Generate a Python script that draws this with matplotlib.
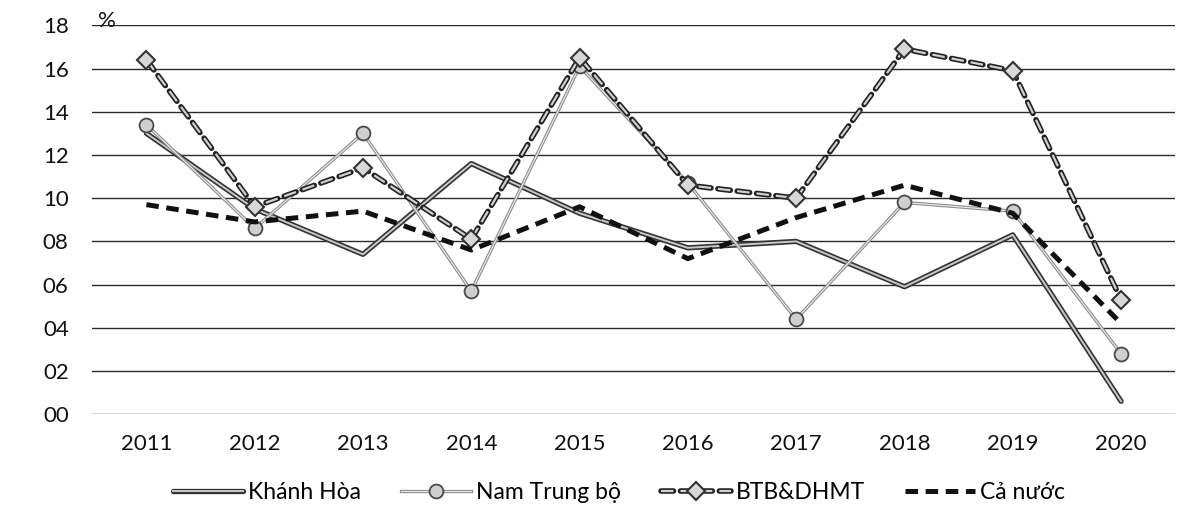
import matplotlib
matplotlib.use('Agg')
import matplotlib.pyplot as plt

plt.rcParams['font.family'] = ['Lato', 'DejaVu Sans']
plt.rcParams['lines.scale_dashes'] = False

years = ['2011', '2012', '2013', '2014', '2015', '2016', '2017', '2018', '2019', '2020']
khanh_hoa = [13.0, 9.5, 7.4, 11.6, 9.3, 7.7, 8.0, 5.9, 8.3, 0.6]
nam_trung_bo = [13.4, 8.6, 13.0, 5.7, 16.1, 10.7, 4.4, 9.8, 9.4, 2.8]
btb_dhmt = [16.4, 9.6, 11.4, 8.1, 16.5, 10.6, 10.0, 16.9, 15.9, 5.3]
ca_nuoc = [9.7, 8.9, 9.4, 7.6, 9.6, 7.2, 9.1, 10.6, 9.3, 4.2]
labels = ['Khánh Hòa', 'Nam Trung bộ', 'BTB&DHMT', 'Cả nước']
yticks = [0, 2, 4, 6, 8, 10, 12, 14, 16, 18]

fig = plt.figure(figsize=(11.98, 5.27), dpi=100)
ax = fig.add_axes([0.077, 0.214, 0.904, 0.738])
x = list(range(len(years)))

# grid
for v in yticks:
    ax.axhline(v, color='#2a2a2a', lw=1.0, zorder=0)

# Khanh Hoa: double solid line
kh1, = ax.plot(x, khanh_hoa, color='#333333', lw=3.8, solid_capstyle='round', zorder=2)
kh2, = ax.plot(x, khanh_hoa, color='#c8c8c8', lw=1.4, zorder=2.1)

# Nam Trung bo: thin gray line with circles
nt1, = ax.plot(x, nam_trung_bo, color='#8a8a8a', lw=2.4, zorder=3)
nt2, = ax.plot(x, nam_trung_bo, color='#e6e6e6', lw=0.9, zorder=3.1,
               marker='o', markersize=10, markerfacecolor='#cfcfcf',
               markeredgecolor='#4a4a4a', markeredgewidth=1.3)

# BTB&DHMT: hollow dashes with diamonds
bt1, = ax.plot(x, btb_dhmt, color='#222222', lw=4.0, linestyle=(0, (9, 5)),
               dash_capstyle='round', zorder=4)
bt2, = ax.plot(x, btb_dhmt, color='#d0d0d0', lw=1.6, linestyle=(0, (9, 5)), zorder=4.1,
               marker='D', markersize=9, markerfacecolor='#d8d8d8',
               markeredgecolor='#333333', markeredgewidth=1.5)

# Ca nuoc: thick black dashes
cn, = ax.plot(x, ca_nuoc, color='#111111', lw=3.6, linestyle=(0, (9, 5.5)), zorder=5)

ax.set_xlim(-0.5, len(years) - 0.5)
ax.set_ylim(0, 18)
ax.set_xticks(x)
ax.set_xticklabels(years)
ax.set_yticks(yticks)
ax.set_yticklabels([f'{v:02d}' for v in yticks])
ax.tick_params(axis='both', length=0, labelsize=16, colors='#111111')
ax.tick_params(axis='y', pad=17)
ax.tick_params(axis='x', pad=14)
for s in ax.spines.values():
    s.set_visible(False)

ax.text(-0.36, 18.2, '%', fontsize=16, ha='center', va='center', color='#111111')

fig.legend([(kh1, kh2), (nt1, nt2), (bt1, bt2), cn], labels,
           loc='center left', bbox_to_anchor=(0.1445, 0.066), ncol=4,
           frameon=False, fontsize=16.5, handlelength=3.05, handletextpad=0.22,
           columnspacing=1.75, borderpad=0, borderaxespad=0)

fig.savefig('out.png', dpi=100)
